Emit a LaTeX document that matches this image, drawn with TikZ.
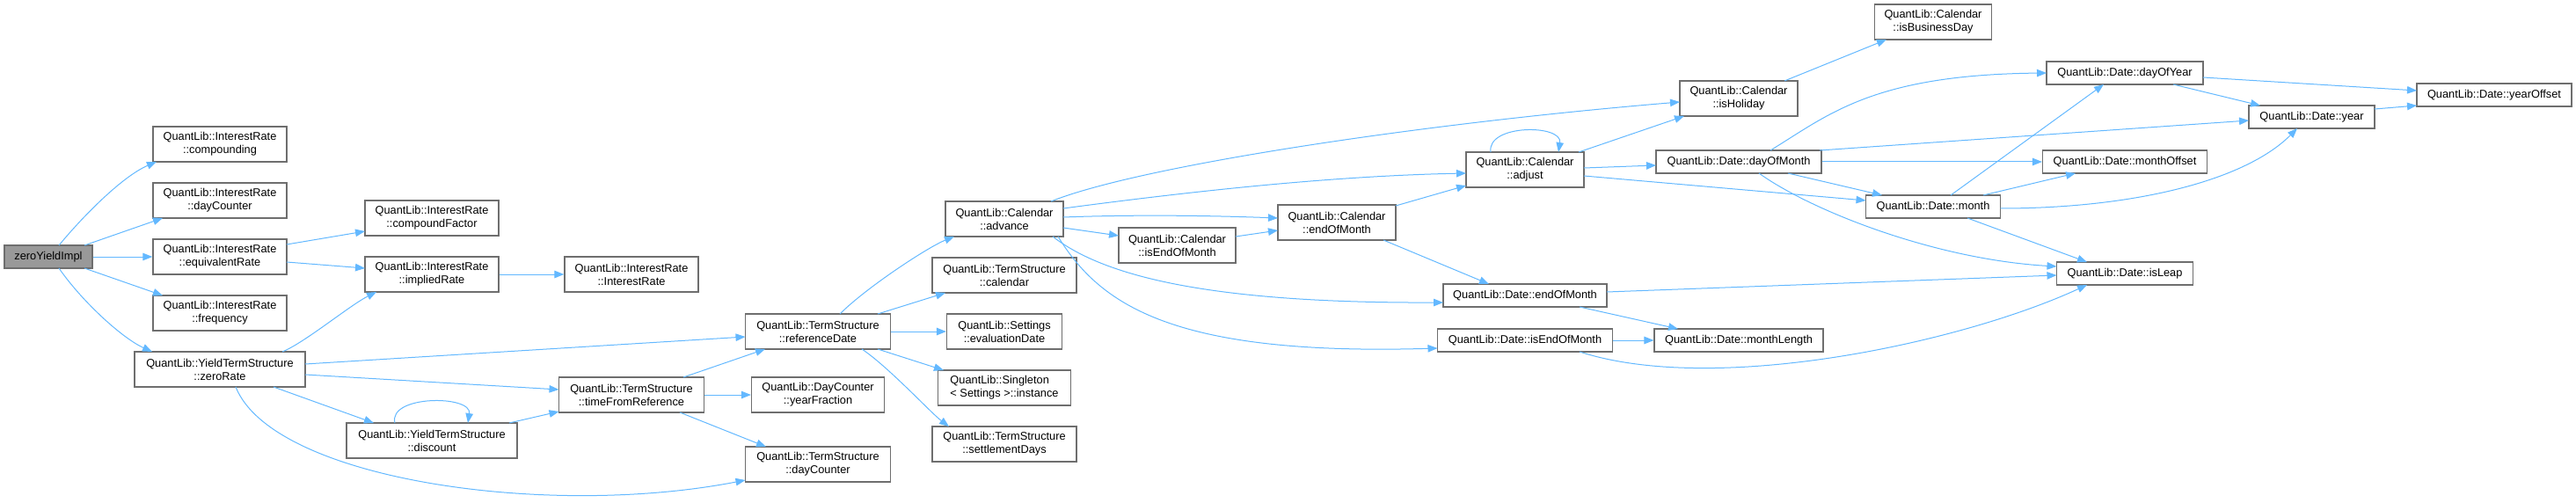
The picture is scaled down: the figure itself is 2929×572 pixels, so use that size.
\documentclass[tikz,border=0pt]{standalone}
\usepackage{fontspec}
\setmainfont{Liberation Sans}
\usetikzlibrary{arrows.meta}
\definecolor{edgeblue}{HTML}{63B8FF}
\definecolor{boxline}{HTML}{6E6E6E}
\definecolor{rootfill}{HTML}{999999}
\begin{document}
\begin{tikzpicture}[x=1pt,y=-1pt,
  box/.style={draw=boxline,fill=white,line width=1.2pt,inner sep=0pt,align=center,
    minimum height=40pt,font=\fontsize{12.8pt}{15pt}\selectfont},
  onebox/.style={box,minimum height=26pt},
  rootbox/.style={onebox,fill=rootfill},
  edge/.style={draw=edgeblue,line width=1pt,-{Triangle[length=11pt,width=8.5pt]}}]
\useasboundingbox (0,0) rectangle (2929,572);
% nodes
\node[rootbox,minimum width=100pt] (zyi) at (55,292) {zeroYieldImpl};
\node[box,minimum width=152pt] (comp) at (250,164) {QuantLib::InterestRate\\::compounding};
\node[box,minimum width=152pt] (irdc) at (250,228) {QuantLib::InterestRate\\::dayCounter};
\node[box,minimum width=152pt] (eqr) at (250,292) {QuantLib::InterestRate\\::equivalentRate};
\node[box,minimum width=152pt] (freq) at (250,356) {QuantLib::InterestRate\\::frequency};
\node[box,minimum width=194pt] (zr) at (250,420) {QuantLib::YieldTermStructure\\::zeroRate};
\node[box,minimum width=152pt] (cf) at (491,248) {QuantLib::InterestRate\\::compoundFactor};
\node[box,minimum width=152pt] (ir) at (491,312) {QuantLib::InterestRate\\::impliedRate};
\node[box,minimum width=152pt] (irir) at (718,312) {QuantLib::InterestRate\\::InterestRate};
\node[box,minimum width=165pt] (rd) at (930,377) {QuantLib::TermStructure\\::referenceDate};
\node[box,minimum width=165pt] (tfr) at (718,449) {QuantLib::TermStructure\\::timeFromReference};
\node[box,minimum width=151pt] (yf) at (930,449) {QuantLib::DayCounter\\::yearFraction};
\node[box,minimum width=194pt] (disc) at (491,501) {QuantLib::YieldTermStructure\\::discount};
\node[box,minimum width=165pt] (tsdc) at (930,528) {QuantLib::TermStructure\\::dayCounter};
\node[box,minimum width=134pt] (adv) at (1142,249) {QuantLib::Calendar\\::advance};
\node[box,minimum width=164pt] (tscal) at (1142,313) {QuantLib::TermStructure\\::calendar};
\node[box,minimum width=131pt] (eval) at (1142,377) {QuantLib::Settings\\::evaluationDate};
\node[box,minimum width=151pt,align=left] (inst) at (1142,441) {QuantLib::Singleton\\{<} Settings {>}::instance};
\node[box,minimum width=164pt] (sd) at (1142,505) {QuantLib::TermStructure\\::settlementDays};
\node[box,minimum width=133pt] (cieom) at (1338.5,279) {QuantLib::Calendar\\::isEndOfMonth};
\node[box,minimum width=134pt] (ceom) at (1520,253) {QuantLib::Calendar\\::endOfMonth};
\node[box,minimum width=133pt] (ibd) at (2198,25) {QuantLib::Calendar\\::isBusinessDay};
\node[box,minimum width=134pt] (ihol) at (1977,112) {QuantLib::Calendar\\::isHoliday};
\node[box,minimum width=134pt] (adj) at (1734,193) {QuantLib::Calendar\\::adjust};
\node[onebox,minimum width=188pt] (dom) at (1977,184) {QuantLib::Date::dayOfMonth};
\node[onebox,minimum width=153pt] (mon) at (2198,235) {QuantLib::Date::month};
\node[onebox,minimum width=186pt] (deom) at (1734,336) {QuantLib::Date::endOfMonth};
\node[onebox,minimum width=199pt] (dieom) at (1734,387) {QuantLib::Date::isEndOfMonth};
\node[onebox,minimum width=192pt] (ml) at (1977,387) {QuantLib::Date::monthLength};
\node[onebox,minimum width=178pt] (doy) at (2416,83) {QuantLib::Date::dayOfYear};
\node[onebox,minimum width=176pt] (yo) at (2836,108) {QuantLib::Date::yearOffset};
\node[onebox,minimum width=143pt] (yr) at (2628.5,133) {QuantLib::Date::year};
\node[onebox,minimum width=187pt] (mo) at (2416,184) {QuantLib::Date::monthOffset};
\node[onebox,minimum width=155pt] (il) at (2416,311) {QuantLib::Date::isLeap};
% edges
\draw[edge] ([shift={(12,-13)}]zyi.center) .. controls +(28,-34) and +(-38,16) .. ([shift={(-72,20)}]comp.center);
\draw[edge] ([shift={(41,-13)}]zyi.center) -- ([shift={(-65,20)}]irdc.center);
\draw[edge] (zyi.east) -- (eqr.west);
\draw[edge] ([shift={(41,13)}]zyi.center) -- ([shift={(-65,-20)}]freq.center);
\draw[edge] ([shift={(12,13)}]zyi.center) .. controls +(28,40) and +(-33,-15) .. ([shift={(-77,-20)}]zr.center);
\draw[edge] ([shift={(76,-14)}]eqr.center) -- ([shift={(-76,15)}]cf.center);
\draw[edge] ([shift={(76,6)}]eqr.center) -- ([shift={(-76,-7)}]ir.center);
\draw[edge] ([shift={(71,-20)}]zr.center) .. controls +(25,-10) and +(-30,15) .. ([shift={(-63,20)}]ir.center);
\draw[edge] (ir.east) -- (irir.west);
\draw[edge] ([shift={(97,-6)}]zr.center) -- ([shift={(-82.5,6)}]rd.center);
\draw[edge] ([shift={(97,6)}]zr.center) -- ([shift={(-82.5,-6)}]tfr.center);
\draw[edge] ([shift={(61,20)}]zr.center) -- ([shift={(-66,-20)}]disc.center);
\draw[edge] ([shift={(18,20)}]zr.center) .. controls +(42,105) and +(-227,44) .. ([shift={(-82.5,18)}]tsdc.center);
\draw[edge] ([shift={(-42,-20)}]disc.center) .. controls +(-8,-32) and +(5,-32) .. ([shift={(41,-20)}]disc.center);
\draw[edge] ([shift={(88,-20)}]disc.center) -- ([shift={(-82.5,19)}]tfr.center);
\draw[edge] ([shift={(59,-20)}]tfr.center) -- ([shift={(-60,20)}]rd.center);
\draw[edge] (tfr.east) -- (yf.west);
\draw[edge] ([shift={(55,20)}]tfr.center) -- ([shift={(-59,-20)}]tsdc.center);
\draw[edge] ([shift={(25,-20)}]rd.center) .. controls +(30,-30) and +(-30,12) .. ([shift={(-57,20)}]adv.center);
\draw[edge] ([shift={(68,-20)}]rd.center) -- ([shift={(-67,20)}]tscal.center);
\draw[edge] (rd.east) -- (eval.west);
\draw[edge] ([shift={(68,20)}]rd.center) -- ([shift={(-69,-20)}]inst.center);
\draw[edge] ([shift={(50,20)}]rd.center) .. controls +(30,20) and +(-20,-15) .. ([shift={(-63,-20)}]sd.center);
\draw[edge] ([shift={(53,-20)}]adv.center) .. controls +(100,-40) and +(-300,25) .. ([shift={(-67,4)}]ihol.center);
\draw[edge] ([shift={(67,-12)}]adv.center) .. controls +(150,-20) and +(-150,3) .. ([shift={(-67,4)}]adj.center);
\draw[edge] ([shift={(67,-2)}]adv.center) .. controls +(80,-3) and +(-80,-3) .. ([shift={(-67,-5)}]ceom.center);
\draw[edge] ([shift={(67,10)}]adv.center) -- ([shift={(-66.5,-11)}]cieom.center);
\draw[edge] ([shift={(55,20)}]adv.center) .. controls +(53,41) and +(-281,1) .. ([shift={(-93,8)}]deom.center);
\draw[edge] ([shift={(61,20)}]adv.center) .. controls +(47,76) and +(-304,9) .. ([shift={(-99.5,9)}]dieom.center);
\draw[edge] ([shift={(66.5,-10)}]cieom.center) -- ([shift={(-67,9)}]ceom.center);
\draw[edge] ([shift={(67,-19)}]ceom.center) -- ([shift={(-67,18)}]adj.center);
\draw[edge] ([shift={(53,20)}]ceom.center) -- ([shift={(-41,-13)}]deom.center);
\draw[edge] ([shift={(-39,-20)}]adj.center) .. controls +(-5,-32) and +(5,-32) .. ([shift={(38,-20)}]adj.center);
\draw[edge] ([shift={(61,-20)}]adj.center) -- ([shift={(-62,20)}]ihol.center);
\draw[edge] ([shift={(67,-2)}]adj.center) -- ([shift={(-94,4)}]dom.center);
\draw[edge] ([shift={(67,7)}]adj.center) -- ([shift={(-76.5,-7)}]mon.center);
\draw[edge] ([shift={(52,-20)}]ihol.center) -- ([shift={(-53,20)}]ibd.center);
\draw[edge] ([shift={(36,-13)}]dom.center) .. controls +(67,-41) and +(-197,2) .. ([shift={(-89,0)}]doy.center);
\draw[edge] ([shift={(92,-13)}]dom.center) -- ([shift={(-71.5,4)}]yr.center);
\draw[edge] (dom.east) -- (mo.west);
\draw[edge] ([shift={(56,13)}]dom.center) -- ([shift={(-58,-13)}]mon.center);
\draw[edge] ([shift={(23,13)}]dom.center) .. controls +(60,43) and +(-138,-8) .. ([shift={(-77.5,-8)}]il.center);
\draw[edge] ([shift={(20,-13)}]mon.center) -- ([shift={(-24,13)}]doy.center);
\draw[edge] ([shift={(57,-13)}]mon.center) -- ([shift={(-56,13)}]mo.center);
\draw[edge] ([shift={(76.5,2)}]mon.center) .. controls +(150,0) and +(-60,60) .. ([shift={(-16.5,13)}]yr.center);
\draw[edge] ([shift={(39,13)}]mon.center) -- ([shift={(-43,-13)}]il.center);
\draw[edge] ([shift={(89,5)}]doy.center) -- ([shift={(-88,-5)}]yo.center);
\draw[edge] ([shift={(55,13)}]doy.center) -- ([shift={(-58.5,-13)}]yr.center);
\draw[edge] ([shift={(71.5,-9)}]yr.center) -- ([shift={(-88,12)}]yo.center);
\draw[edge] ([shift={(93,-4)}]deom.center) -- ([shift={(-77.5,2)}]il.center);
\draw[edge] ([shift={(62,13)}]deom.center) -- ([shift={(-69,-13)}]ml.center);
\draw[edge] (dieom.east) -- (ml.west);
\draw[edge] ([shift={(62,13)}]dieom.center) .. controls +(154,50) and +(-143,66) .. ([shift={(-43,13)}]il.center);
\end{tikzpicture}
\end{document}
